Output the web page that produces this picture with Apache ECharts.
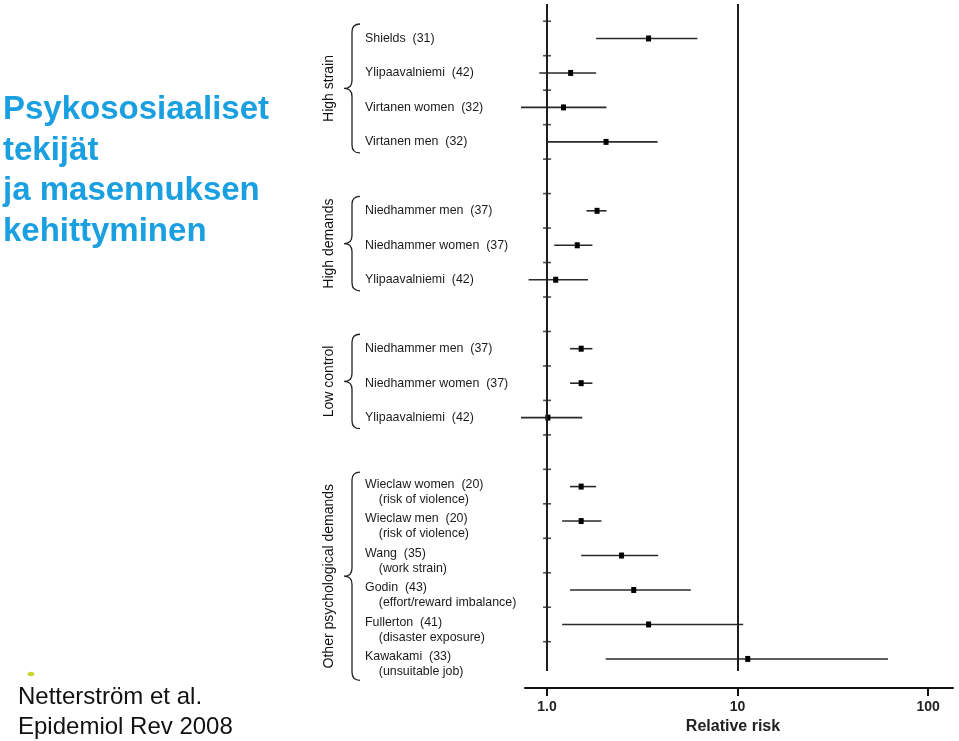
<!DOCTYPE html>
<html>
<head>
<meta charset="utf-8">
<script src="https://cdn.jsdelivr.net/npm/echarts@6/dist/echarts.min.js"></script>
<style>
  html, body { margin: 0; padding: 0; background: #fff; }
  #chart { width: 959px; height: 741px; }
</style>
</head>
<body>
<div id="chart"></div>
<script>
const FONT = 'Liberation Sans, Arial, sans-serif';

// studies, top to bottom
const STUDIES = [
  'Shields  (31)', 'Ylipaavalniemi  (42)', 'Virtanen women  (32)', 'Virtanen men  (32)',
  'Niedhammer men  (37)', 'Niedhammer women  (37)', 'Ylipaavalniemi  (42)',
  'Niedhammer men  (37)', 'Niedhammer women  (37)', 'Ylipaavalniemi  (42)',
  'Wieclaw women  (20)', 'Wieclaw men  (20)', 'Wang  (35)', 'Godin  (43)',
  'Fullerton  (41)', 'Kawakami  (33)'
];
const SUBLABELS = [
  '', '', '', '',
  '', '', '',
  '', '', '',
  '(risk of violence)', '(risk of violence)', '(work strain)', '(effort/reward imbalance)',
  '(disaster exposure)', '(unsuitable job)'
];
const GROUP_NAMES = ['High strain', 'High demands', 'Low control', 'Other psychological demands'];
const GROUP_OF = [0, 0, 0, 0, 1, 1, 1, 2, 2, 2, 3, 3, 3, 3, 3, 3];

const RR      = [3.41, 1.33, 1.22, 2.04, 1.83, 1.44, 1.11, 1.51, 1.51, 1.01, 1.51, 1.51, 2.46, 2.85, 3.41, 11.3];
const CI_LOW  = [1.81, 0.91, 0.73, 1.00, 1.61, 1.09, 0.80, 1.32, 1.32, 0.73, 1.32, 1.20, 1.51, 1.32, 1.20, 2.03];
const CI_HIGH = [6.15, 1.81, 2.05, 3.80, 2.05, 1.73, 1.64, 1.73, 1.73, 1.53, 1.81, 1.93, 3.83, 5.68, 10.7, 61.5];

const REF_LINES = [1, 10];
const X_TICKS = [1, 10, 100];

// one empty row between groups
const rowPos = STUDIES.map((s, i) => i + GROUP_OF[i]);
const SUB_SHIFT = 0.16;

const labelValues = [];
const labelMap = {};
STUDIES.forEach((name, i) => {
  const v = rowPos[i] + (SUBLABELS[i] ? SUB_SHIFT : 0);
  labelValues.push(v);
  labelMap[v.toFixed(2)] = SUBLABELS[i] ? name + '\n    ' + SUBLABELS[i] : name;
});

const groupData = GROUP_NAMES.map((g, gi) => {
  const idx = GROUP_OF.map((x, i) => x === gi ? i : -1).filter(i => i >= 0);
  const first = idx[0], last = idx[idx.length - 1];
  return [1, rowPos[first], rowPos[last], SUBLABELS[last] ? 1 : 0];
});

const refTicks = [];
for (let r = -1; r < rowPos[rowPos.length - 1]; r++) refTicks.push([1, r + 0.5]);

const chart = echarts.init(document.getElementById('chart'));

chart.setOption({
  animation: false,
  backgroundColor: '#fff',
  title: [
    {
      text: 'Psykososiaaliset\ntekijät\nja masennuksen\nkehittyminen',
      left: 3,
      top: 90,
      padding: 0,
      textStyle: { fontFamily: FONT, fontSize: 33, fontWeight: 'bold', color: '#1a9fe0', lineHeight: 40.5 }
    },
    {
      text: 'Netterström et al.\nEpidemiol Rev 2008',
      left: 18,
      top: 682,
      padding: 0,
      textStyle: { fontFamily: FONT, fontSize: 24, fontWeight: 'normal', color: '#111', lineHeight: 30 }
    }
  ],
  graphic: [
    { type: 'ellipse', shape: { cx: 31, cy: 674, rx: 3.5, ry: 2.2 }, style: { fill: '#c8d62c' } }
  ],
  grid: { left: 525, right: 6, top: 4, bottom: 70 },
  xAxis: {
    type: 'log',
    logBase: 10,
    min: 0.766,
    max: 135,
    position: 'bottom',
    offset: 17,
    axisLine: { onZero: false, lineStyle: { color: '#111', width: 2 } },
    axisTick: { customValues: X_TICKS, length: 8, lineStyle: { color: '#111', width: 2 } },
    axisLabel: {
      customValues: X_TICKS,
      formatter: v => Math.round(v) === 1 ? '1.0' : String(Math.round(v)),
      fontFamily: FONT, fontSize: 14, fontWeight: 'bold', color: '#222', margin: 12
    },
    splitLine: { show: false },
    name: 'Relative risk',
    nameLocation: 'middle',
    nameGap: 31,
    nameTextStyle: { fontFamily: FONT, fontSize: 16, fontWeight: 'bold', color: '#222', padding: [0, 12, 0, 0] }
  },
  yAxis: {
    type: 'value',
    min: -1,
    max: 18.35,
    inverse: true,
    axisLine: { show: false },
    axisTick: { show: false },
    splitLine: { show: false },
    axisLabel: {
      customValues: labelValues,
      formatter: v => labelMap[Number(v).toFixed(2)] || '',
      align: 'left',
      margin: 160,
      fontFamily: FONT,
      fontSize: 12.4,
      lineHeight: 15,
      color: '#1b1b1b'
    }
  },
  series: [
    {
      name: 'refTicks',
      type: 'scatter',
      silent: true,
      symbol: 'rect',
      symbolSize: [8, 1.6],
      itemStyle: { color: '#222' },
      data: refTicks,
      markLine: {
        silent: true,
        symbol: 'none',
        label: { show: false },
        lineStyle: { color: '#1e1e1e', width: 2, type: 'solid' },
        data: REF_LINES.map(v => ({ xAxis: v }))
      },
      z: 2
    },
    {
      name: 'groups',
      type: 'custom',
      silent: true,
      encode: { x: 0, y: 1 },
      data: groupData,
      renderItem: (params, api) => {
        const left = params.coordSys.x;
        const top = api.coord([1, api.value(1) - 0.42])[1];
        const bot = api.coord([1, api.value(2) + 0.32 + (api.value(3) ? 0.3 : 0)])[1];
        const mid = (top + bot) / 2;
        const tip = left - 181, spine = left - 173, end = left - 165, r = 8;
        const d = `M${end},${top} Q${spine},${top} ${spine},${top + r} L${spine},${mid - r} ` +
          `Q${spine},${mid} ${tip},${mid} Q${spine},${mid} ${spine},${mid + r} ` +
          `L${spine},${bot - r} Q${spine},${bot} ${end},${bot}`;
        return {
          type: 'group',
          children: [
            { type: 'path', shape: { pathData: d }, style: { fill: 'none', stroke: '#222', lineWidth: 1.3 } },
            {
              type: 'text',
              x: left - 196,
              y: mid,
              rotation: Math.PI / 2,
              style: {
                text: GROUP_NAMES[params.dataIndex],
                fill: '#111',
                font: '14px ' + FONT,
                align: 'center',
                verticalAlign: 'middle'
              }
            }
          ]
        };
      },
      z: 3
    },
    {
      name: 'studies',
      type: 'custom',
      silent: true,
      encode: { x: [0, 1, 2], y: 3 },
      data: STUDIES.map((s, i) => [CI_LOW[i], CI_HIGH[i], RR[i], rowPos[i]]),
      renderItem: (params, api) => {
        const y = api.value(3);
        const a = api.coord([api.value(0), y]);
        const b = api.coord([api.value(1), y]);
        const p = api.coord([api.value(2), y]);
        return {
          type: 'group',
          children: [
            { type: 'line', shape: { x1: a[0], y1: a[1], x2: b[0], y2: b[1] }, style: { stroke: '#2a2a2a', lineWidth: 1.6 } },
            { type: 'rect', shape: { x: p[0] - 2.5, y: p[1] - 3, width: 5, height: 6 }, style: { fill: '#000' } }
          ]
        };
      },
      z: 4
    }
  ]
});
</script>
</body>
</html>
